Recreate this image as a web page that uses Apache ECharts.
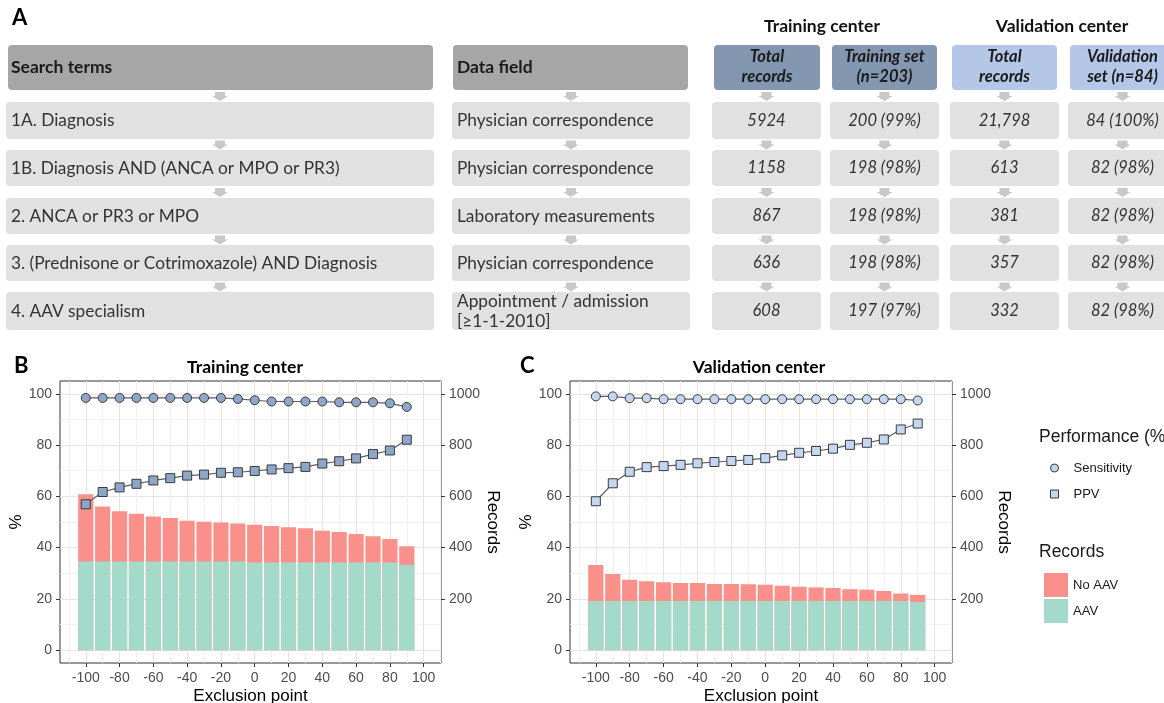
<!DOCTYPE html>
<html><head><meta charset="utf-8">
<script src="https://cdn.jsdelivr.net/npm/echarts@6/dist/echarts.min.js"></script>
<style>html,body{margin:0;padding:0;background:#fff}#c{width:1164px;height:703px}</style>
</head><body><div id="c"></div><script>
// ---------- Panel A table data ----------
const searchTerms = ['1A. Diagnosis', '1B. Diagnosis AND (ANCA or MPO or PR3)', '2. ANCA or PR3 or MPO', '3. (Prednisone or Cotrimoxazole) AND Diagnosis', '4. AAV specialism'];
const dataFields = ['Physician correspondence', 'Physician correspondence', 'Laboratory measurements', 'Physician correspondence', 'Appointment / admission\n[\u22651-1-2010]'];
const trainTotalText = ['5924', '1158', '867', '636', '608'];
const trainSetText = ['200 (99%)', '198 (98%)', '198 (98%)', '198 (98%)', '197 (97%)'];
const valTotalText = ['21,798', '613', '381', '357', '332'];
const valSetText = ['84 (100%)', '82 (98%)', '82 (98%)', '82 (98%)', '82 (98%)'];
const headerLabels = ['Search terms', 'Data field', 'Total\nrecords', 'Training set\n(n=203)', 'Total\nrecords', 'Validation\nset (n=84)'];
const groupLabels = ['Training center', 'Validation center'];

// ---------- Panels B / C data ----------
const exclusionPoints = [-100, -90, -80, -70, -60, -50, -40, -30, -20, -10, 0, 10, 20, 30, 40, 50, 60, 70, 80, 90];
const xTicks = [-100, -80, -60, -40, -20, 0, 20, 40, 60, 80, 100];
const xMinor = [-110, -90, -70, -50, -30, -10, 10, 30, 50, 70, 90, 110];
const pctTicks = [0, 20, 40, 60, 80, 100];
const pctMinor = [10, 30, 50, 70, 90];
const recTicks = [200, 400, 600, 800, 1000];

// total records (No AAV + AAV) and AAV records per exclusion point
const trainRecords = [608, 560, 542, 532, 521, 516, 505, 501, 498, 494, 489, 484, 480, 476, 466, 461, 453, 444, 434, 405];
const trainAAV = [346, 346, 346, 346, 346, 346, 346, 346, 346, 346, 342, 342, 342, 342, 342, 342, 342, 342, 342, 333];
const trainSens = [98.4, 98.4, 98.4, 98.4, 98.4, 98.4, 98.4, 98.4, 98.4, 98.0, 97.5, 97.0, 97.0, 97.0, 97.0, 96.7, 96.7, 96.7, 96.3, 94.9];
const trainPPV = [56.9, 61.7, 63.5, 64.9, 66.2, 67.1, 68.1, 68.5, 69.2, 69.4, 69.9, 70.5, 71.0, 71.5, 72.8, 73.7, 74.8, 76.5, 77.9, 82.1];

const valRecords = [332, 297, 275, 269, 265, 262, 262, 258, 258, 257, 255, 251, 247, 245, 243, 238, 236, 231, 221, 216];
const valAAV = [192, 192, 192, 192, 192, 192, 192, 192, 192, 192, 192, 192, 192, 192, 192, 192, 192, 192, 192, 188];
const valSens = [99.0, 99.0, 98.3, 98.3, 97.9, 97.9, 97.9, 97.9, 97.9, 97.9, 97.9, 97.9, 97.9, 97.9, 97.9, 97.9, 97.9, 97.9, 97.9, 97.4];
const valPPV = [58.1, 65.1, 69.6, 71.4, 71.8, 72.3, 72.9, 73.4, 73.8, 74.2, 74.9, 76.0, 77.0, 77.7, 78.6, 80.1, 80.9, 82.2, 86.1, 88.4];

// ---------- styling / layout ----------
const TF = 'Lato, "Open Sans", sans-serif';
const AF = '"Liberation Sans", Arial, sans-serif';
const RED = '#f9918a', GREEN = '#a3dac9';
const XMIN = -115.25, XMAX = 110.25;
const grids = [
  {left: 60, top: 381, width: 381, height: 282},
  {left: 570, top: 381, width: 382, height: 282}
];

const g = [];
function rect(x0, y0, x1, y1, fill) {
  g.push({type: 'rect', silent: true, shape: {x: x0, y: y0, width: x1 - x0, height: y1 - y0, r: 4}, style: {fill: fill}});
}
function txt(x, y, s, o) {
  g.push({type: 'text', silent: true, x: x, y: y, style: Object.assign({text: s, fill: '#262626', fontFamily: TF, fontSize: 16, align: 'left', verticalAlign: 'middle'}, o || {})});
}
function arrow(cx, cy) {
  g.push({type: 'polygon', silent: true, shape: {points: [[cx - 5, cy - 4], [cx + 5, cy - 4], [cx + 5, cy], [cx + 8, cy], [cx, cy + 5], [cx - 8, cy], [cx - 5, cy]]}, style: {fill: '#c8c8c8'}});
}

// Panel A
const cols = [
  {x0: 6, x1: 434, hx0: 8, hx1: 433, hfill: '#a6a6a6', align: 'left', tx: 11, texts: searchTerms},
  {x0: 452, x1: 690, hx0: 453, hx1: 688, hfill: '#a6a6a6', align: 'left', tx: 457, texts: dataFields},
  {x0: 712, x1: 821, hx0: 714, hx1: 820, hfill: '#8497b0', align: 'center', texts: trainTotalText},
  {x0: 830, x1: 939, hx0: 832, hx1: 937, hfill: '#8497b0', align: 'center', texts: trainSetText},
  {x0: 950, x1: 1059, hx0: 952, hx1: 1057, hfill: '#b4c7e7', align: 'center', texts: valTotalText},
  {x0: 1068, x1: 1177, hx0: 1070, hx1: 1175, hfill: '#b4c7e7', align: 'center', texts: valSetText}
];
const rowTops = [102, 150, 198, 245, 292];
const rowH = [37, 36, 36, 36, 38];
const arrowYs = [96, 144.5, 192, 239.5, 286.5];
txt(12, 18, 'A', {fontSize: 22, fontWeight: 'bold', fill: '#000'});
txt(822, 26, groupLabels[0], {fontSize: 17.5, fontWeight: 'bold', fill: '#111', align: 'center'});
txt(1062, 26, groupLabels[1], {fontSize: 17.5, fontWeight: 'bold', fill: '#111', align: 'center'});
cols.forEach(function (c, ci) {
  rect(c.hx0, 45, c.hx1, 90, c.hfill);
  if (c.align === 'left') {
    txt(c.tx, 67, headerLabels[ci], {fontSize: 17.5, fontWeight: 'bold', fill: '#1a1a1a'});
  } else {
    txt((c.hx0 + c.hx1) / 2, 67, headerLabels[ci], {fontSize: 16.5, fontWeight: 'bold', fontStyle: 'italic', fill: '#1a1a1a', align: 'center', lineHeight: 20});
  }
  const cx = (c.x0 + c.x1) / 2;
  rowTops.forEach(function (t, ri) {
    arrow(cx, arrowYs[ri]);
    rect(c.x0, t, c.x1, t + rowH[ri], '#e1e1e1');
    const ty = t + rowH[ri] / 2;
    if (c.align === 'left') {
      txt(c.tx, ty, c.texts[ri], {fontSize: 17.3, lineHeight: 20, fill: '#333'});
    } else {
      txt(cx, ty, c.texts[ri], {fontSize: 16.5, fontStyle: 'italic', align: 'center', fill: '#333'});
    }
  });
});

// Panel labels and titles
txt(14, 366, 'B', {fontSize: 22, fontWeight: 'bold', fill: '#000'});
txt(520, 366, 'C', {fontSize: 22, fontWeight: 'bold', fill: '#000'});
txt(245, 367, 'Training center', {fontSize: 17.5, fontWeight: 'bold', fill: '#000', align: 'center'});
txt(759, 367, 'Validation center', {fontSize: 17.5, fontWeight: 'bold', fill: '#000', align: 'center'});
// legend titles
txt(1039, 437, 'Performance (%)', {fontFamily: AF, fontSize: 17.5, fill: '#1a1a1a'});
txt(1039, 552, 'Records', {fontFamily: AF, fontSize: 17.5, fill: '#1a1a1a'});

const axLabel = {color: '#4d4d4d', fontFamily: AF, fontSize: 14, formatter: function (v) { return String(v); }};
function xAxes(gi) {
  return [
    {gridIndex: gi, type: 'value', min: XMIN, max: XMAX, position: 'bottom',
      name: 'Exclusion point', nameLocation: 'middle', nameGap: 25,
      nameTextStyle: {color: '#000', fontFamily: AF, fontSize: 17},
      axisLine: {show: false, onZero: false},
      axisTick: {show: true, length: 4, inside: false, customValues: xTicks, lineStyle: {color: '#333', width: 1}},
      axisLabel: Object.assign({customValues: xTicks, margin: 8}, axLabel),
      splitLine: {show: true, lineStyle: {color: '#e4e4e4', width: 1}}},
    {gridIndex: gi, type: 'value', min: XMIN, max: XMAX, position: 'bottom',
      axisLine: {show: false, onZero: false},
      axisTick: {show: false, customValues: xMinor},
      axisLabel: {show: false, customValues: xMinor},
      splitLine: {show: true, lineStyle: {color: '#f2f2f2', width: 1}}}
  ];
}
function yAxes(gi) {
  return [
    {gridIndex: gi, type: 'value', min: -5, max: 105, position: 'left',
      name: '%', nameLocation: 'middle', nameGap: 35, nameRotate: 90,
      nameTextStyle: {color: '#000', fontFamily: AF, fontSize: 17},
      axisLine: {show: false, onZero: false},
      axisTick: {show: true, length: 4, customValues: pctTicks, lineStyle: {color: '#333'}},
      axisLabel: Object.assign({customValues: pctTicks, margin: 8}, axLabel),
      splitLine: {show: true, lineStyle: {color: '#e4e4e4', width: 1}}},
    {gridIndex: gi, type: 'value', min: -50, max: 1050, position: 'right',
      name: 'Records', nameLocation: 'middle', nameGap: 39, nameRotate: -90,
      nameTextStyle: {color: '#000', fontFamily: AF, fontSize: 17},
      axisLine: {show: false, onZero: false},
      axisTick: {show: true, length: 4, customValues: recTicks, lineStyle: {color: '#333'}},
      axisLabel: Object.assign({customValues: recTicks, margin: 8}, axLabel),
      splitLine: {show: false}},
    {gridIndex: gi, type: 'value', min: -5, max: 105, position: 'left',
      axisLine: {show: false, onZero: false},
      axisTick: {show: false, customValues: pctMinor},
      axisLabel: {show: false, customValues: pctMinor},
      splitLine: {show: true, lineStyle: {color: '#f2f2f2', width: 1}}}
  ];
}

function panelSeries(gi, records, aav, sens, ppv, markerFill) {
  const xi = gi * 2, yi = gi * 3;
  const bw = grids[gi].width / (XMAX - XMIN) * 9;
  const pairs = function (vals) { return exclusionPoints.map(function (x, i) { return [x, vals[i]]; }); };
  const line = {lineStyle: {color: '#5e5e5e', width: 1.2}, z: 5};
  return [
    // full bar = all records; its visible upper part is the No AAV share
    {name: 'No AAV', type: 'bar', xAxisIndex: xi, yAxisIndex: yi + 1, barWidth: bw, barGap: '-100%',
      itemStyle: {color: RED}, data: pairs(records), z: 2},
    {name: 'AAV', type: 'bar', xAxisIndex: xi, yAxisIndex: yi + 1, barWidth: bw, barGap: '-100%',
      itemStyle: {color: GREEN}, data: pairs(aav), z: 3},
    Object.assign({name: 'Sensitivity', type: 'line', xAxisIndex: xi, yAxisIndex: yi, symbol: 'circle', symbolSize: 9,
      itemStyle: {color: markerFill, borderColor: '#3a3a3a', borderWidth: 1}, data: pairs(sens)}, line),
    Object.assign({name: 'PPV', type: 'line', xAxisIndex: xi, yAxisIndex: yi, symbol: 'rect', symbolSize: 9,
      itemStyle: {color: markerFill, borderColor: '#3a3a3a', borderWidth: 1}, data: pairs(ppv)}, line)
  ];
}

const chart = echarts.init(document.getElementById('c'), null, {renderer: 'canvas'});
chart.setOption({
  animation: false,
  backgroundColor: '#fff',
  grid: grids.map(function (gr) { return Object.assign({show: true, borderColor: '#333', borderWidth: 1, backgroundColor: 'transparent', outerBoundsMode: 'none'}, gr); }),
  xAxis: xAxes(0).concat(xAxes(1)),
  yAxis: yAxes(0).concat(yAxes(1)),
  legend: [
    {orient: 'vertical', left: 1045, top: 456, itemWidth: 8, itemHeight: 8, itemGap: 12, selectedMode: false,
      textStyle: {fontFamily: AF, fontSize: 13, color: '#1a1a1a', lineHeight: 14, padding: [0, 0, 0, 10]},
      data: [
        {name: 'Sensitivity', icon: 'circle', itemStyle: {color: '#c3d8f0', borderColor: '#3a3a3a', borderWidth: 1}},
        {name: 'PPV', icon: 'rect', itemStyle: {color: '#c3d8f0', borderColor: '#3a3a3a', borderWidth: 1}}
      ]},
    {orient: 'vertical', left: 1039, top: 568, itemWidth: 24, itemHeight: 24, itemGap: 2, selectedMode: false,
      textStyle: {fontFamily: AF, fontSize: 13, color: '#1a1a1a', padding: [0, 0, 0, 0]},
      data: [
        {name: 'No AAV', icon: 'rect', itemStyle: {color: RED, borderWidth: 0}},
        {name: 'AAV', icon: 'rect', itemStyle: {color: GREEN, borderWidth: 0}}
      ]}
  ],
  graphic: {elements: g},
  series: panelSeries(0, trainRecords, trainAAV, trainSens, trainPPV, '#8ea7c8')
    .concat(panelSeries(1, valRecords, valAAV, valSens, valPPV, '#c3d8f0'))
});
</script></body></html>
